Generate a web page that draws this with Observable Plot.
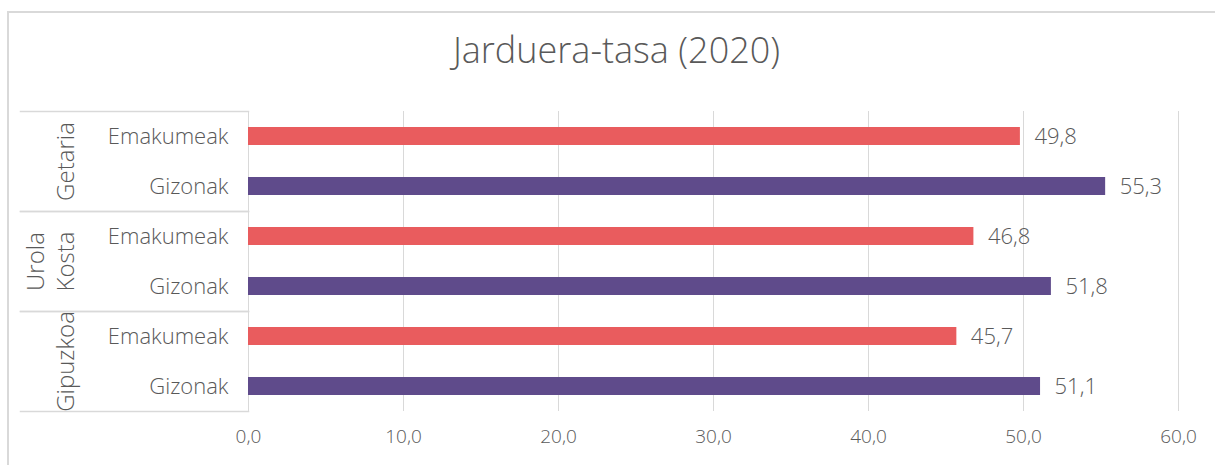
<!DOCTYPE html>
<html>
<head>
<meta charset="utf-8">
<script src="https://cdn.jsdelivr.net/npm/d3@7"></script>
<script src="https://cdn.jsdelivr.net/npm/@observablehq/plot@0.6"></script>
<style>
  html, body { margin: 0; padding: 0; background: #fff; }
  body { width: 1215px; height: 465px; overflow: hidden; position: relative; font-family: "Open Sans", Roboto, sans-serif; }
  #frame { position: absolute; left: 7px; top: 11px; width: 1230px; height: 480px; border: 2px solid #d9d9d9; box-sizing: border-box; }
  #title { position: absolute; left: 0; top: 2px; width: 1233px; height: 95px; text-align: center; font-size: 36px; font-weight: 300; color: #595959; line-height: 95px; }
  #wrap { position: absolute; left: 0; top: 95px; }
  #wrap text { font-weight: 300; }
</style>
</head>
<body>
<div id="frame"></div>
<div id="title">Jarduera-tasa (2020)</div>
<div id="wrap"></div>
<script>
const regions = ["Getaria", "Urola\nKosta", "Gipuzkoa"];
const sexes = ["Emakumeak", "Gizonak"];
const womenValues = [49.8, 46.8, 45.7];
const menValues = [55.3, 51.8, 51.1];
const xTicks = [0, 10, 20, 30, 40, 50, 60];
const colors = ["#E95C5E", "#5F4B8B"];

const data = [];
regions.forEach((r, i) => {
  data.push({region: r, sex: sexes[0], value: womenValues[i]});
  data.push({region: r, sex: sexes[1], value: menValues[i]});
});
const fmt = v => v.toFixed(1).replace(".", ",");

const chart = Plot.plot({
  width: 1215,
  height: 370,
  marginTop: 15,
  marginBottom: 54,
  marginLeft: 248,
  marginRight: 37,
  style: {fontFamily: "'Open Sans', Roboto, sans-serif", fontSize: "22px", color: "#595959", background: "transparent"},
  x: {domain: [0, 60], ticks: xTicks, tickFormat: fmt, label: null},
  y: {domain: sexes, padding: 0, label: null},
  fy: {domain: regions, padding: 0, label: null, axis: null},
  color: {domain: sexes, range: colors},
  marks: [
    Plot.gridX(xTicks, {stroke: "#d9d9d9", strokeOpacity: 1}),
    Plot.frame({anchor: "top", stroke: "#d9d9d9", strokeWidth: 1.5, insetLeft: -228, insetRight: 930}),
    Plot.frame({anchor: "bottom", stroke: "#d9d9d9", strokeWidth: 1.5, insetLeft: -228, insetRight: 930}),
    Plot.barX(data, {x: "value", y: "sex", fy: "region", fill: "sex", insetTop: 16, insetBottom: 16}),
    Plot.text(data, {x: "value", y: "sex", fy: "region", text: d => fmt(d.value), textAnchor: "start", dx: 14, fill: "#595959", fontSize: 22}),
    Plot.axisY({tickSize: 0, tickPadding: 20, fontSize: 22, label: null}),
    Plot.axisX({ticks: xTicks, tickFormat: fmt, tickSize: 0, tickPadding: 18, fontSize: 19, label: null}),
    Plot.text(regions, {fy: d => d, text: d => d, frameAnchor: "left", dx: -175, rotate: -90, lineAnchor: "bottom", textAnchor: "middle", fontSize: 24, fill: "#595959", lineHeight: 1.25})
  ]
});
document.getElementById("wrap").appendChild(chart);
</script>
</body>
</html>
